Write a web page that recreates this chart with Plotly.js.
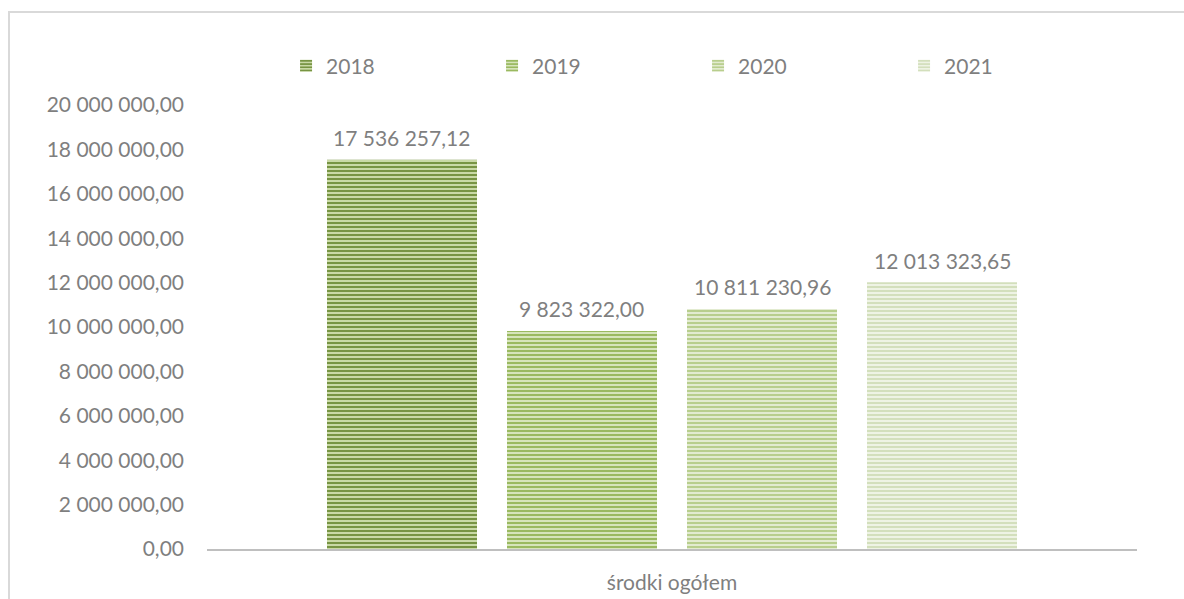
<!DOCTYPE html>
<html>
<head>
<meta charset="utf-8">
<script src="https://cdn.plot.ly/plotly-3.0.1.min.js"></script>
<style>
  html, body { margin: 0; padding: 0; background: #ffffff; }
  #chart { width: 1184px; height: 599px; }
</style>
</head>
<body>
<div id="chart"></div>
<script>
// ---- data ----
const category = ["środki ogółem"];
const years = ["2018", "2019", "2020", "2021"];
const values2018 = [17536257.12];
const values2019 = [9823322.00];
const values2020 = [10811230.96];
const values2021 = [12013323.65];
const seriesValues = [values2018, values2019, values2020, values2021];

// ---- styles ----
const bgColors = ["#c9d9a6", "#d6e4bb", "#e2ebd0", "#eef3e4"];
const fgColors = ["#6e8c38", "#93b456", "#b3cb86", "#d0ddb8"];
const fontFamily = "Lato, 'Open Sans', sans-serif";
const textGray = "#7f7f7f";
const fontSize = 21;
const bargap = 0.2258;
const plotWidthPx = 930;

const traces = years.map((yr, i) => ({
  type: "bar",
  name: yr,
  x: category,
  y: seriesValues[i],
  marker: {
    color: bgColors[i],
    line: { width: 0 },
    pattern: {
      shape: "-",
      fgcolor: fgColors[i],
      bgcolor: bgColors[i],
      size: 4,
      solidity: 0.45,
      fillmode: "replace"
    }
  },
  hoverinfo: "skip"
}));

// value labels above bars, positioned through the axis scale
const slotPx = plotWidthPx * (1 - bargap) / years.length;
const fmt = v => {
  const parts = v.toFixed(2).split(".");
  parts[0] = parts[0].replace(/\B(?=(\d{3})+(?!\d))/g, " ");
  return parts.join(",");
};
const annotations = [];
years.forEach((yr, i) => {
  seriesValues[i].forEach((v, j) => {
    annotations.push({
      x: category[j],
      y: v,
      xref: "x",
      yref: "y",
      text: fmt(v),
      showarrow: false,
      xanchor: "center",
      yanchor: "middle",
      xshift: (i - (years.length - 1) / 2) * slotPx,
      yshift: 22,
      font: { family: fontFamily, size: fontSize, color: textGray }
    });
  });
});

const layout = {
  width: 1184,
  height: 599,
  margin: { l: 207, r: 47, t: 105, b: 50, pad: 0 },
  paper_bgcolor: "#ffffff",
  plot_bgcolor: "#ffffff",
  separators: ", ",
  font: { family: fontFamily, size: fontSize, color: textGray },
  barmode: "group",
  bargap: bargap,
  bargroupgap: 0.1667,
  showlegend: true,
  legend: {
    orientation: "h",
    x: 0.085,
    xanchor: "left",
    y: 1.0878,
    yanchor: "middle",
    entrywidth: 161,
    entrywidthmode: "pixels",
    font: { family: fontFamily, size: fontSize, color: textGray },
    bgcolor: "rgba(0,0,0,0)"
  },
  xaxis: {
    type: "category",
    showline: true,
    linecolor: "#bfbfbf",
    linewidth: 2,
    showgrid: false,
    zeroline: false,
    ticks: "",
    ticklabelstandoff: 14,
    tickfont: { family: fontFamily, size: fontSize, color: textGray }
  },
  yaxis: {
    range: [0, 20000000],
    dtick: 2000000,
    tick0: 0,
    tickformat: ",.2f",
    showgrid: false,
    zeroline: false,
    showline: false,
    ticks: "",
    ticklabelstandoff: 22,
    tickfont: { family: fontFamily, size: fontSize, color: textGray }
  },
  annotations: annotations,
  shapes: [
    {
      type: "path",
      xref: "paper",
      yref: "paper",
      path: "M -0.2129,-0.2 L -0.2129,1.2095 L 1.2,1.2095",
      line: { color: "#d9d9d9", width: 2 },
      fillcolor: "rgba(0,0,0,0)",
      layer: "below"
    }
  ]
};

Plotly.newPlot("chart", traces, layout, { displayModeBar: false, staticPlot: true });
</script>
</body>
</html>
